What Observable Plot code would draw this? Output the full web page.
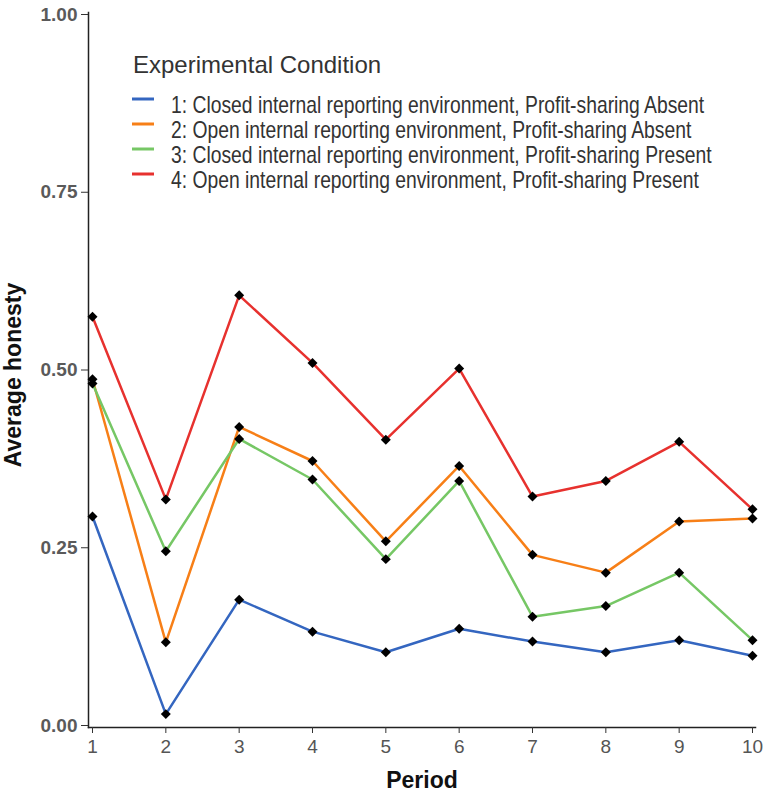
<!DOCTYPE html>
<html>
<head>
<meta charset="utf-8">
<script src="https://cdn.jsdelivr.net/npm/d3@7"></script>
<script src="https://cdn.jsdelivr.net/npm/@observablehq/plot@0.6"></script>
<style>
  body { margin: 0; background: #fff; }
  #chart svg { display: block; }
</style>
</head>
<body>
<div id="chart"></div>
<script>
// Average honesty per period, by experimental condition
const periods = [1, 2, 3, 4, 5, 6, 7, 8, 9, 10];

const conditions = [
  "1: Closed internal reporting environment, Profit-sharing Absent",
  "2: Open internal reporting environment, Profit-sharing Absent",
  "3: Closed internal reporting environment, Profit-sharing Present",
  "4: Open internal reporting environment, Profit-sharing Present"
];

const conditionColors = ["#3466c0", "#f77f17", "#76c765", "#e7312e"];

const closedAbsent  = [0.294, 0.016, 0.177, 0.132, 0.103, 0.136, 0.118, 0.103, 0.120, 0.098];
const openAbsent    = [0.487, 0.117, 0.420, 0.372, 0.259, 0.365, 0.240, 0.215, 0.287, 0.291];
const closedPresent = [0.481, 0.245, 0.403, 0.346, 0.234, 0.344, 0.153, 0.168, 0.215, 0.120];
const openPresent   = [0.575, 0.318, 0.605, 0.510, 0.402, 0.502, 0.322, 0.344, 0.399, 0.304];

const yTicks = [0, 0.25, 0.5, 0.75, 1];

const legendTitle = "Experimental Condition";
const xLabel = "Period";
const yLabel = "Average honesty";

const series = [closedAbsent, openAbsent, closedPresent, openPresent];
const data = conditions.flatMap((condition, i) =>
  periods.map((period, j) => ({condition, period, honesty: series[i][j]}))
);

const font = "'Liberation Sans', Arial, Helvetica, sans-serif";

const chart = Plot.plot({
  width: 765,
  height: 793,
  marginLeft: 88,
  marginRight: 10,
  marginTop: 12,
  marginBottom: 66,
  style: {fontFamily: font, background: "#fff", color: "#222"},
  x: {domain: [1, 10], insetLeft: 4, insetRight: 3},
  y: {domain: [0, 1], insetTop: 2, insetBottom: 2},
  color: {domain: conditions, range: conditionColors},
  marks: [
    Plot.frame({anchor: "left", stroke: "#222", strokeWidth: 1.5}),
    Plot.frame({anchor: "bottom", stroke: "#222", strokeWidth: 1.5}),
    Plot.axisY({
      ticks: yTicks,
      tickFormat: d3.format(".2f"),
      tickSize: 7,
      tickPadding: 4,
      fontSize: 19,
      fontWeight: "bold",
      fill: "#5a5a5a",
      stroke: "#333",
      label: null
    }),
    Plot.axisX({
      ticks: periods,
      tickFormat: d3.format("d"),
      tickSize: 6,
      tickPadding: 6,
      fontSize: 19,
      fill: "#555",
      stroke: "#333",
      label: null
    }),
    Plot.line(data, {
      x: "period",
      y: "honesty",
      z: "condition",
      stroke: "condition",
      strokeWidth: 2.5
    }),
    Plot.dot(data, {
      x: "period",
      y: "honesty",
      symbol: "diamond2",
      r: 4.5,
      fill: "#000",
      stroke: "none"
    }),
    Plot.text([yLabel], {
      frameAnchor: "left",
      textAnchor: "middle",
      lineAnchor: "middle",
      rotate: -90,
      dx: -75,
      dy: 5,
      fontSize: 23,
      fontWeight: "bold",
      fill: "#111"
    }),
    Plot.text([xLabel], {
      frameAnchor: "bottom",
      textAnchor: "middle",
      lineAnchor: "middle",
      dy: 53,
      fontSize: 23,
      fontWeight: "bold",
      fill: "#111"
    })
  ]
});

// Legend drawn inside the plotting area, upper left
const svg = d3.select(chart);
const legend = svg.append("g")
  .attr("font-family", font)
  .attr("text-anchor", "start");
legend.append("text")
  .attr("x", 133)
  .attr("y", 73)
  .attr("font-size", 24)
  .attr("fill", "#333")
  .text(legendTitle);

conditions.forEach((c, i) => {
  const base = 113 + i * 25;
  legend.append("line")
    .attr("x1", 132).attr("x2", 154)
    .attr("y1", base - 14).attr("y2", base - 14)
    .attr("stroke", conditionColors[i])
    .attr("stroke-width", 3);
  legend.append("text")
    .attr("transform", `translate(171,${base}) scale(0.84,1)`)
    .attr("font-size", 23)
    .attr("fill", "#333")
    .text(c);
});

document.getElementById("chart").appendChild(chart);
</script>
</body>
</html>
